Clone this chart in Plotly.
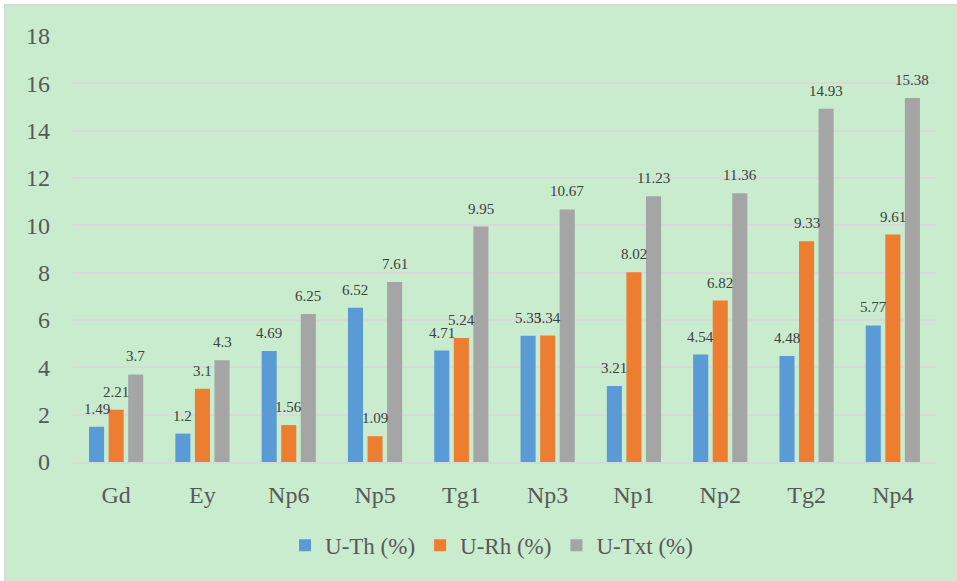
import plotly.graph_objects as go

categories = ["Gd", "Ey", "Np6", "Np5", "Tg1", "Np3", "Np1", "Np2", "Tg2", "Np4"]
u_th = [1.49, 1.2, 4.69, 6.52, 4.71, 5.33, 3.21, 4.54, 4.48, 5.77]
u_rh = [2.21, 3.1, 1.56, 1.09, 5.24, 5.34, 8.02, 6.82, 9.33, 9.61]
u_txt = [3.7, 4.3, 6.25, 7.61, 9.95, 10.67, 11.23, 11.36, 14.93, 15.38]
y_ticks = [0, 2, 4, 6, 8, 10, 12, 14, 16, 18]

SERIF = "Liberation Serif"
BG = "#C8ECCD"
W, H = 957, 581
ML, MR, MT, MB = 73, 21, 36, 119
PW, PH = W - ML - MR, H - MT - MB
BARGAP, GROUPGAP = 0.32, 0.23

series = [
    ("U-Th (%)", u_th, "#5B9BD5"),
    ("U-Rh (%)", u_rh, "#ED7D31"),
    ("U-Txt (%)", u_txt, "#A5A5A5"),
]

fig = go.Figure()
for name, vals, color in series:
    fig.add_trace(go.Bar(
        x=categories, y=vals, name=name,
        marker=dict(color=color, line=dict(width=0)),
        cliponaxis=False,
    ))

# value labels sit a little above each bar, centred on its slot in the group
slot_px = PW / len(categories) * (1 - BARGAP) / len(series)
for i, (name, vals, color) in enumerate(series):
    dx = (i - (len(series) - 1) / 2) * slot_px
    for cat, v in zip(categories, vals):
        fig.add_annotation(x=cat, y=v, text=f"{v:g}", showarrow=False,
                           xanchor="center", yanchor="bottom", xshift=dx, yshift=8,
                           font=dict(family=SERIF, size=15, color="#404040"))

fig.update_layout(
    width=W, height=H,
    paper_bgcolor="white", plot_bgcolor=BG,
    margin=dict(l=ML, r=MR, t=MT, b=MB),
    barmode="group", bargap=BARGAP, bargroupgap=GROUPGAP,
    font=dict(family=SERIF, color="#595959"),
    showlegend=True,
    legend=dict(orientation="h", x=0.485, xanchor="center", y=-0.145, yanchor="top",
                font=dict(family=SERIF, size=23, color="#595959"),
                itemwidth=30, tracegroupgap=0, bgcolor="rgba(0,0,0,0)"),
)
fig.update_xaxes(
    showgrid=False, showline=True, linecolor="#D9D9D9", linewidth=2,
    tickfont=dict(family=SERIF, size=24, color="#595959"), ticks="",
    ticklabelstandoff=10,
)
fig.update_yaxes(
    range=[0, 18], tickvals=y_ticks, showgrid=True, gridcolor="#D9D9D9", gridwidth=2,
    zeroline=False, showline=False,
    tickfont=dict(family=SERIF, size=24, color="#595959"), ticks="",
    ticklabelstandoff=22,
)
# chart area background with its frame
fig.add_shape(type="rect", xref="paper", yref="paper",
              x0=(5 - ML) / PW, x1=(W + 5 - ML) / PW,
              y0=-(MB + 5) / PH, y1=(H - 5 - MB) / PH,
              line=dict(color="#D9D9D9", width=2), fillcolor=BG, layer="below")

fig.write_html("out.html")
